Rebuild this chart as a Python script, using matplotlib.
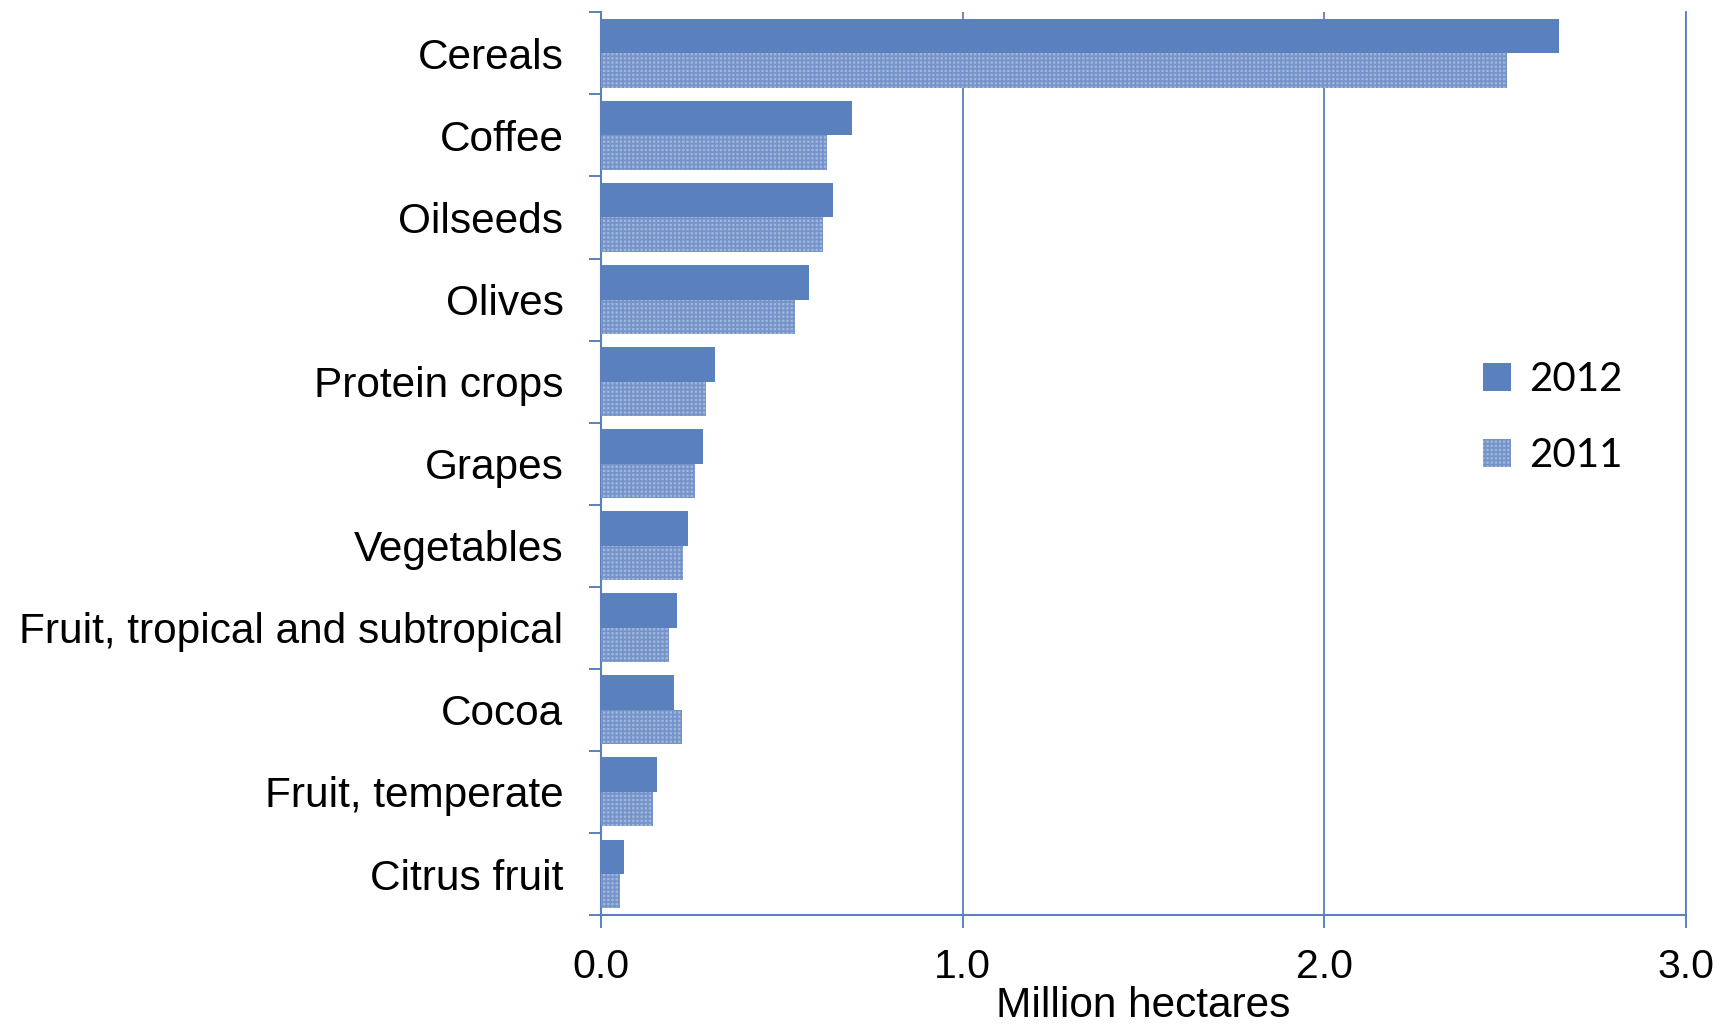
import numpy as np
import matplotlib.pyplot as plt
from matplotlib.patches import Patch

crops = ["Cereals", "Coffee", "Oilseeds", "Olives", "Protein crops", "Grapes",
         "Vegetables", "Fruit, tropical and subtropical", "Cocoa",
         "Fruit, temperate", "Citrus fruit"]
area_2012 = [2.65, 0.694, 0.642, 0.576, 0.315, 0.282, 0.242, 0.209, 0.203, 0.155, 0.064]
area_2011 = [2.506, 0.625, 0.615, 0.536, 0.291, 0.261, 0.227, 0.188, 0.224, 0.145, 0.053]
xticks = [0.0, 1.0, 2.0, 3.0]

blue = "#5A80BD"
light = "#9DB4DD"
plt.rcParams['hatch.linewidth'] = 1.2

fig = plt.figure(figsize=(17.2, 10.27), dpi=100)
ax = fig.add_axes([0.3494, 0.109, 0.6308, 0.879])

y = np.arange(len(crops))
h = 0.42
ax.barh(y - h / 2, area_2012, height=h, color=blue, zorder=3)
ax.barh(y + h / 2, area_2011, height=h, color=light, edgecolor="#7593C9",
        hatch="++++", linewidth=0, zorder=3)

ax.set_xlim(0, 3)
ax.set_ylim(len(crops) - 0.5, -0.5)
ax.set_xticks(xticks)
ax.set_xticklabels([f"{v:.1f}" for v in xticks], fontsize=29.5, family="Liberation Sans")
ax.set_yticks(y)
ax.set_yticklabels(crops, fontsize=30.5, family="Liberation Sans")
ax.set_yticks(np.arange(len(crops) + 1) - 0.5, minor=True)
ax.tick_params(axis="y", which="major", length=0, pad=27)
ax.tick_params(axis="y", which="minor", length=9, width=1.4, color=blue, direction="out")
ax.tick_params(axis="x", length=9, width=1.4, color=blue, pad=15)
ax.grid(axis="x", color=blue, linewidth=1.3, zorder=1)

for s in ["left", "bottom", "right"]:
    ax.spines[s].set_color(blue)
    ax.spines[s].set_linewidth(1.5)
ax.spines["top"].set_visible(False)
ax.spines["right"].set_linewidth(1.3)

ax.set_xlabel("Million hectares", fontsize=30.5, family="Liberation Sans", labelpad=0)

handles = [Patch(facecolor=blue, label="2012"),
           Patch(facecolor=light, edgecolor="#7593C9", hatch="++++", linewidth=0, label="2011")]
leg = ax.legend(handles=handles, loc="center left", bbox_to_anchor=(0.78, 0.551),
                frameon=False, prop={"family": "Lato", "size": 29},
                handlelength=0.68, handleheight=0.68, handletextpad=0.45, labelspacing=0.98)

fig.savefig("out.png", dpi=100)
